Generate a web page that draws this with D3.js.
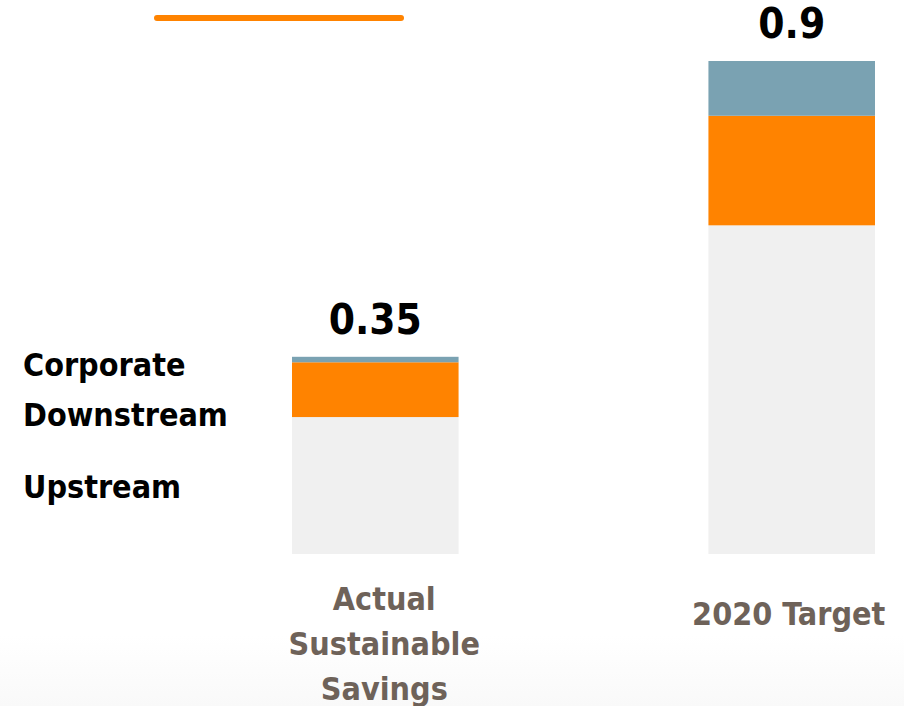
<!DOCTYPE html>
<html>
<head>
<meta charset="utf-8">
<script src="https://cdn.jsdelivr.net/npm/d3@7"></script>
<style>
  html, body { margin: 0; padding: 0; background: #ffffff; }
  svg { display: block; }
  text { font-family: "DejaVu Sans Condensed", "DejaVu Sans", sans-serif; font-weight: bold; font-stretch: condensed; }
</style>
</head>
<body>
<svg id="chart" width="904" height="706"></svg>
<script>
// ---- data ----
const categories = ["Actual Sustainable Savings", "2020 Target"];
const categoryLines = [["Actual", "Sustainable", "Savings"], ["2020 Target"]];
const seriesNames = ["Upstream", "Downstream", "Corporate"];
const upstream = [0.25, 0.60];
const downstream = [0.10, 0.20];
const corporate = [0.01, 0.10];
const totalLabels = ["0.35", "0.9"];

const colors = { Upstream: "#f0f0f0", Downstream: "#ff8300", Corporate: "#7aa2b2" };

const svg = d3.select("#chart");
const W = 904, H = 706;

// faint background gradient near bottom
const defs = svg.append("defs");
const grad = defs.append("linearGradient").attr("id", "bg").attr("x1", 0).attr("y1", 0).attr("x2", 0).attr("y2", 1);
grad.append("stop").attr("offset", "0.9").attr("stop-color", "#ffffff");
grad.append("stop").attr("offset", "1").attr("stop-color", "#f9f9f9");
svg.append("rect").attr("width", W).attr("height", H).attr("fill", "url(#bg)");

const table = categories.map((c, i) => ({
  category: c,
  Upstream: upstream[i],
  Downstream: downstream[i],
  Corporate: corporate[i]
}));

const x = d3.scaleBand().domain(categories).range([292, 875]).paddingInner(0.6).paddingOuter(0);
const y = d3.scaleLinear().domain([0, 0.9]).range([554, 61]);

const stacked = d3.stack().keys(seriesNames)(table);

svg.append("g").selectAll("g")
  .data(stacked)
  .join("g")
  .attr("fill", d => colors[d.key])
  .selectAll("rect")
  .data(d => d)
  .join("rect")
  .attr("x", d => x(d.data.category))
  .attr("width", x.bandwidth())
  .attr("y", d => y(d[1]))
  .attr("height", d => y(d[0]) - y(d[1]));

// totals
const totals = table.map(d => d.Upstream + d.Downstream + d.Corporate);
svg.append("g").selectAll("text")
  .data(categories)
  .join("text")
  .attr("x", c => x(c) + x.bandwidth() / 2)
  .attr("y", (c, i) => y(totals[i]) - 23)
  .attr("text-anchor", "middle")
  .attr("font-size", 42)
  .attr("fill", "#000")
  .text((c, i) => totalLabels[i]);

// category labels
const catG = svg.append("g");
categories.forEach((c, i) => {
  const lines = categoryLines[i];
  const t = catG.append("text")
    .attr("text-anchor", "middle")
    .attr("font-size", 32)
    .attr("fill", "#6e6259");
  const startY = lines.length > 1 ? 610 : 625;
  lines.forEach((ln, j) => {
    t.append("tspan")
      .attr("x", x(c) + x.bandwidth() / 2 + (lines.length > 1 ? 9 : -3))
      .attr("y", startY + j * 45)
      .text(ln);
  });
});

// legend labels on the left
const legendY = { Corporate: 376, Downstream: 426, Upstream: 498 };
svg.append("g").selectAll("text")
  .data(seriesNames)
  .join("text")
  .attr("x", 23)
  .attr("y", d => legendY[d])
  .attr("font-size", 32)
  .attr("fill", "#000")
  .text(d => d);

// title underline
svg.append("line")
  .attr("x1", 157).attr("x2", 401)
  .attr("y1", 18).attr("y2", 18)
  .attr("stroke", "#ff8300")
  .attr("stroke-width", 6)
  .attr("stroke-linecap", "round");
</script>
</body>
</html>
